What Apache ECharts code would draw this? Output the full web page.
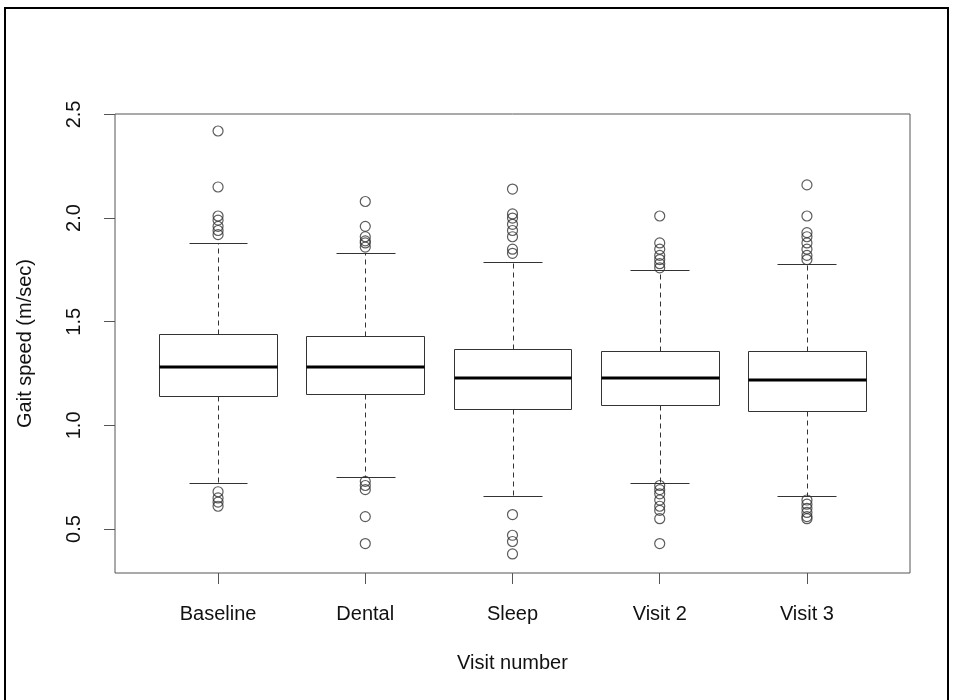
<!DOCTYPE html>
<html>
<head>
<meta charset="utf-8">
<title>Gait speed by visit</title>
<script src="https://cdn.jsdelivr.net/npm/echarts@6/dist/echarts.min.js"></script>
<style>
  html, body { margin: 0; padding: 0; background: #fff; }
  #chart { width: 954px; height: 700px; }
</style>
</head>
<body>
<div id="chart"></div>
<script>
// Visits shown along the x axis
const categories = ['Baseline', 'Dental', 'Sleep', 'Visit 2', 'Visit 3'];

// Five-number summaries (m/sec)
const lowerWhisker = [0.72, 0.75, 0.66, 0.72, 0.66];
const lowerQuartile = [1.14, 1.15, 1.08, 1.10, 1.07];
const medians = [1.28, 1.28, 1.23, 1.23, 1.22];
const upperQuartile = [1.44, 1.43, 1.37, 1.36, 1.36];
const upperWhisker = [1.88, 1.83, 1.79, 1.75, 1.78];

// Points beyond the whiskers
const outliersBaseline = [2.42, 2.15, 2.01, 1.99, 1.96, 1.94, 1.92, 0.68, 0.65, 0.63, 0.61];
const outliersDental = [2.08, 1.96, 1.91, 1.89, 1.88, 1.86, 0.73, 0.71, 0.69, 0.56, 0.43];
const outliersSleep = [2.14, 2.02, 2.00, 1.97, 1.94, 1.91, 1.85, 1.83, 0.57, 0.47, 0.44, 0.38];
const outliersVisit2 = [2.01, 1.88, 1.85, 1.82, 1.80, 1.78, 1.76, 0.71, 0.69, 0.67, 0.64, 0.61, 0.59, 0.55, 0.43];
const outliersVisit3 = [2.16, 2.01, 1.93, 1.91, 1.88, 1.85, 1.82, 1.80, 0.64, 0.62, 0.60, 0.58, 0.56, 0.55];

// Axis ticks
const yTicks = [0.5, 1.0, 1.5, 2.0, 2.5];
const xTicks = [1, 2, 3, 4, 5];

const outlierGroups = [outliersBaseline, outliersDental, outliersSleep, outliersVisit2, outliersVisit3];

const boxData = categories.map((c, i) => [
  i + 1, lowerWhisker[i], lowerQuartile[i], medians[i], upperQuartile[i], upperWhisker[i]
]);
const outlierData = [];
outlierGroups.forEach((g, i) => g.forEach(v => outlierData.push([i + 1, v])));

const FONT = '"Liberation Sans", Arial, Helvetica, sans-serif';
const INK = '#333';

function crisp(v) { return Math.round(v) + 0.5; }

function renderBox(params, api) {
  const x = api.value(0);
  const lo = api.value(1), q1 = api.value(2), md = api.value(3), q3 = api.value(4), hi = api.value(5);
  const halfBox = 0.4, halfCap = 0.2;
  const left = crisp(api.coord([x - halfBox, q1])[0]);
  const right = crisp(api.coord([x + halfBox, q1])[0]);
  const capL = crisp(api.coord([x - halfCap, q1])[0]);
  const capR = crisp(api.coord([x + halfCap, q1])[0]);
  const cx = crisp(api.coord([x, q1])[0]);
  const yLo = crisp(api.coord([x, lo])[1]);
  const yQ1 = crisp(api.coord([x, q1])[1]);
  const yMd = Math.round(api.coord([x, md])[1]);
  const yQ3 = crisp(api.coord([x, q3])[1]);
  const yHi = crisp(api.coord([x, hi])[1]);
  const thin = { stroke: INK, lineWidth: 1, fill: null };
  const dashed = { stroke: INK, lineWidth: 1, lineDash: [5, 4] };
  return {
    type: 'group',
    children: [
      { type: 'line', shape: { x1: cx, y1: yQ3, x2: cx, y2: yHi }, style: dashed },
      { type: 'line', shape: { x1: cx, y1: yQ1, x2: cx, y2: yLo }, style: dashed },
      { type: 'line', shape: { x1: capL, y1: yHi, x2: capR, y2: yHi }, style: thin },
      { type: 'line', shape: { x1: capL, y1: yLo, x2: capR, y2: yLo }, style: thin },
      { type: 'rect', shape: { x: left, y: yQ3, width: right - left, height: yQ1 - yQ3 }, style: { stroke: INK, lineWidth: 1, fill: '#fff' } },
      { type: 'line', shape: { x1: left, y1: yMd, x2: right, y2: yMd }, style: { stroke: '#000', lineWidth: 3 } }
    ]
  };
}

const chart = echarts.init(document.getElementById('chart'), null, { renderer: 'canvas' });

chart.setOption({
  backgroundColor: '#fff',
  animation: false,
  grid: {
    left: 115, right: 44, top: 114, bottom: 127,
    show: true, borderColor: '#555', borderWidth: 1, backgroundColor: 'transparent'
  },
  xAxis: {
    type: 'value', min: 0.3, max: 5.7,
    name: 'Visit number', nameLocation: 'middle', nameGap: 80,
    nameTextStyle: { fontFamily: FONT, fontSize: 20, color: '#111' },
    axisLine: { show: false },
    splitLine: { show: false },
    axisTick: { show: true, inside: false, length: 11, customValues: xTicks, lineStyle: { color: '#555' } },
    axisLabel: {
      customValues: xTicks, margin: 31,
      fontFamily: FONT, fontSize: 20, color: '#111',
      formatter: v => categories[Math.round(v) - 1] || ''
    }
  },
  yAxis: {
    type: 'value', min: 0.288, max: 2.502,
    name: 'Gait speed (m/sec)', nameLocation: 'middle', nameGap: 80, nameRotate: 90,
    nameTextStyle: { fontFamily: FONT, fontSize: 20, color: '#111' },
    axisLine: { show: false },
    splitLine: { show: false },
    axisTick: { show: true, inside: false, length: 11, customValues: yTicks, lineStyle: { color: '#555' } },
    axisLabel: {
      customValues: yTicks, margin: 31, rotate: 90,
      fontFamily: FONT, fontSize: 20, color: '#111',
      formatter: v => v.toFixed(1)
    }
  },
  series: [
    {
      type: 'custom',
      renderItem: renderBox,
      data: boxData,
      encode: { x: 0, y: [1, 2, 3, 4, 5] },
      z: 2
    },
    {
      type: 'scatter',
      data: outlierData,
      symbol: 'circle',
      symbolSize: 10,
      itemStyle: { color: 'rgba(0,0,0,0)', borderColor: INK, borderWidth: 1.2 },
      z: 3
    }
  ],
  graphic: [
    { type: 'line', shape: { x1: 4, y1: 8, x2: 949, y2: 8 }, style: { stroke: '#000', lineWidth: 2 } },
    { type: 'line', shape: { x1: 5, y1: 8, x2: 5, y2: 700 }, style: { stroke: '#000', lineWidth: 2 } },
    { type: 'line', shape: { x1: 948, y1: 8, x2: 948, y2: 700 }, style: { stroke: '#000', lineWidth: 2 } }
  ]
});
</script>
</body>
</html>
